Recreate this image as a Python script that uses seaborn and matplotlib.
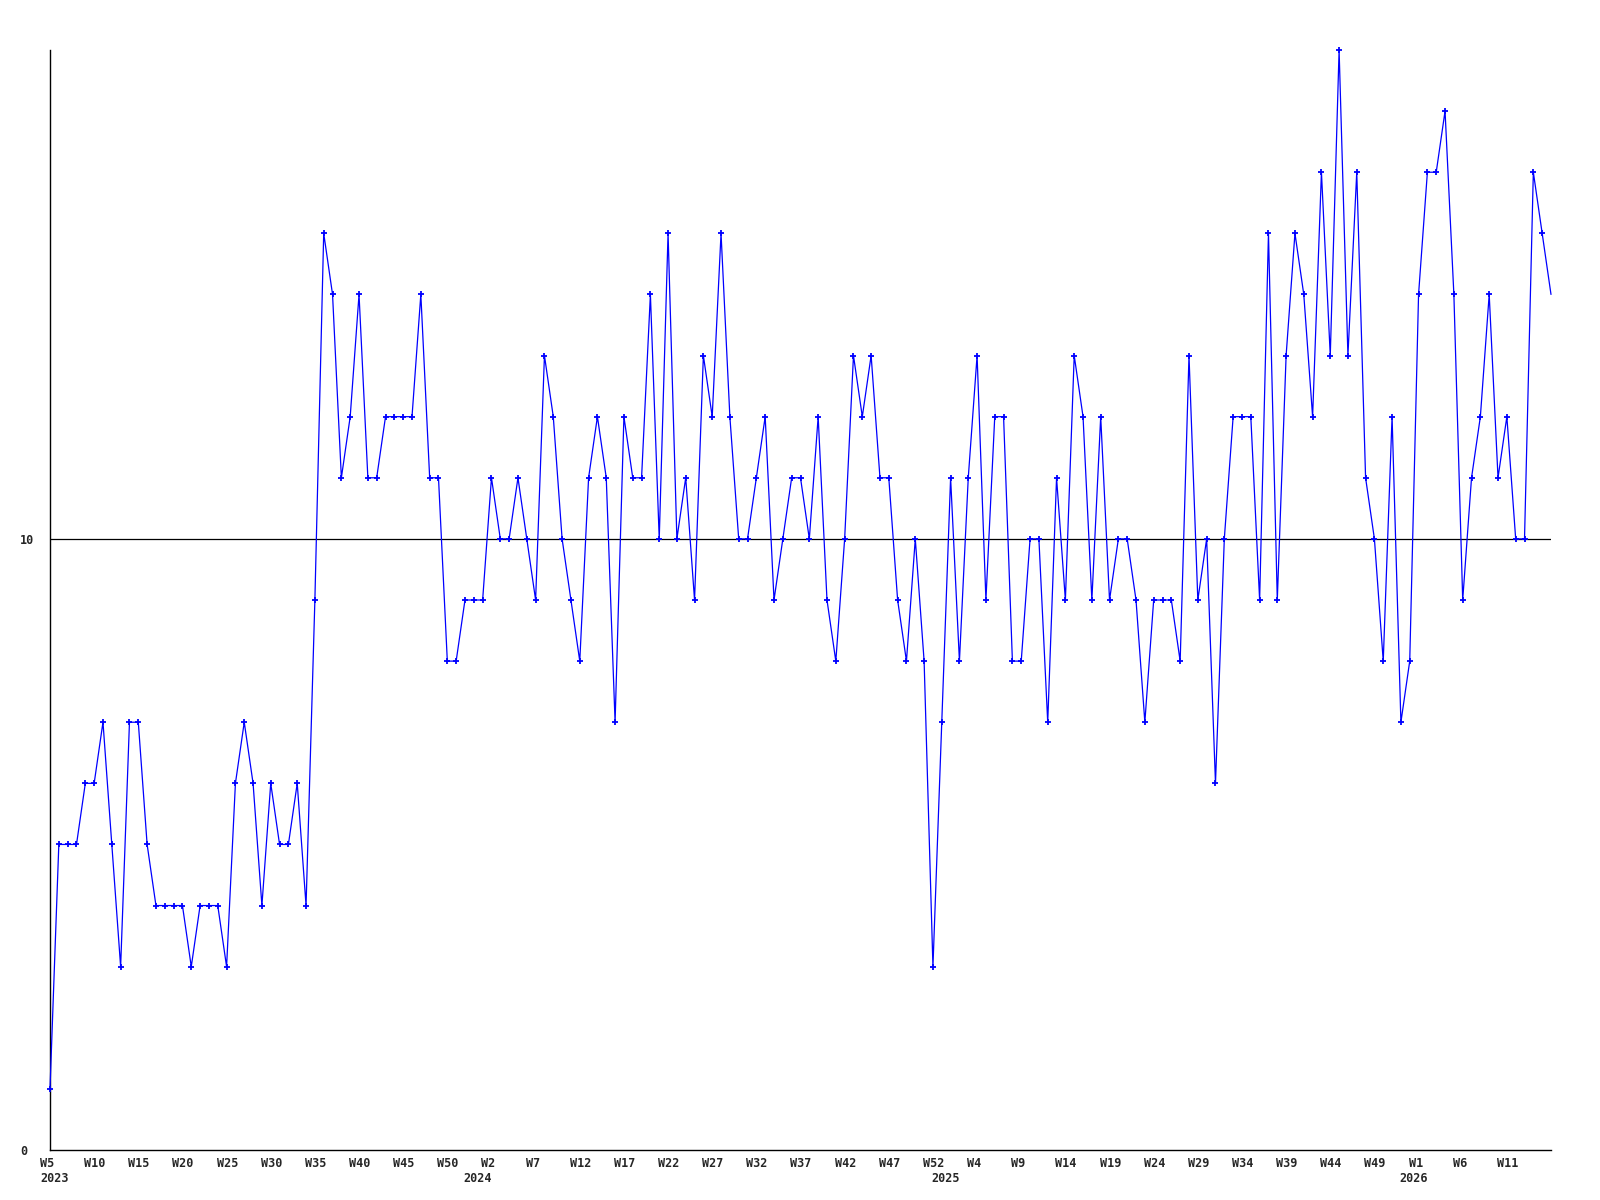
import matplotlib
matplotlib.use('Agg')
import matplotlib.pyplot as plt
import matplotlib.transforms as mtransforms
import numpy as np
import pandas as pd
import seaborn as sns

# weekly values, W5 2023 .. W15 2026
values = [1, 5, 5, 5, 6, 6, 7, 5, 3, 7, 7, 5, 4, 4, 4, 4, 3, 4, 4, 4, 3, 6, 7, 6, 4,
          6, 5, 5, 6, 4, 9, 15, 14, 11, 12, 14, 11, 11, 12, 12, 12, 12, 14, 11, 11, 8, 8, 9, 9, 9,
          11, 10, 10, 11, 10, 9, 13, 12, 10, 9, 8, 11, 12, 11, 7, 12, 11, 11, 14, 10, 15, 10, 11, 9, 13,
          12, 15, 12, 10, 10, 11, 12, 9, 10, 11, 11, 10, 12, 9, 8, 10, 13, 12, 13, 11, 11, 9, 8, 10, 8,
          3, 7, 11, 8, 11, 13, 9, 12, 12, 8, 8, 10, 10, 7, 11, 9, 13, 12, 9, 12, 9, 10, 10, 9, 7,
          9, 9, 9, 8, 13, 9, 10, 6, 10, 12, 12, 12, 9, 15, 9, 13, 15, 14, 12, 16, 13, 18, 13, 16, 11,
          10, 8, 12, 7, 8, 14, 16, 16, 17, 14, 9, 11, 12, 14, 11, 12, 10, 10, 16, 15, 14]

# x tick labels (every 5th week) grouped by year
week_ticks = {
    '2023': ['W5', 'W10', 'W15', 'W20', 'W25', 'W30', 'W35', 'W40', 'W45', 'W50'],
    '2024': ['W2', 'W7', 'W12', 'W17', 'W22', 'W27', 'W32', 'W37', 'W42', 'W47', 'W52'],
    '2025': ['W4', 'W9', 'W14', 'W19', 'W24', 'W29', 'W34', 'W39', 'W44', 'W49'],
    '2026': ['W1', 'W6', 'W11'],
}
ytick_vals = [0, 10]
ref_line = 10

df = pd.DataFrame({'week': np.arange(len(values)), 'value': values})

sns.set_style('white')
plt.rcParams['font.family'] = ['DejaVu Sans Mono']
plt.rcParams['font.weight'] = 'bold'

fig = plt.figure(figsize=(16, 12), dpi=100)
ax = fig.add_axes([50 / 1600, 50 / 1200, 1501 / 1600, 1100 / 1200])

ax.axhline(ref_line, color='black', lw=0.9, zorder=1)
sns.lineplot(data=df, x='week', y='value', ax=ax, color='#0000ff', lw=0.9,
             marker='+', markersize=4, markeredgewidth=1.3, markeredgecolor='#0000ff',
             markevery=slice(0, len(values) - 1), zorder=3, clip_on=False)

ax.set_xlim(0, len(values) - 1)
ax.set_ylim(0, 18)

# week labels: left-aligned, starting ~10px left of their tick
labels = [w for yr in week_ticks for w in week_ticks[yr]]
ticks = np.arange(len(labels)) * 5
ax.set_xticks(ticks)
ax.set_xticklabels([])
trans = mtransforms.blended_transform_factory(ax.transData, ax.transAxes)
for t, lab in zip(ticks, labels):
    ax.annotate(lab, xy=(t, 0), xycoords=trans, xytext=(-7.2, -5.3), textcoords='offset points',
                ha='left', va='top', fontsize=8.5, fontweight='bold')

ax.set_yticks(ytick_vals)
ax.set_yticklabels([str(v) for v in ytick_vals], fontsize=8.5, fontweight='bold', ha='left')
ax.tick_params(axis='x', length=0)
ax.tick_params(axis='y', length=0, pad=21.5)

# year labels under week 0/1 of each year
start = 0
for yr, wks in week_ticks.items():
    first_num = int(wks[0][1:])
    pos = max(0, start - first_num)
    ax.annotate(yr, xy=(pos, 0), xycoords=trans, xytext=(-7.2, -15.6), textcoords='offset points',
                ha='left', va='top', fontsize=8.5, fontweight='bold')
    start += 5 * len(wks)

ax.set_xlabel('')
ax.set_ylabel('')
for s in ['top', 'right']:
    ax.spines[s].set_visible(False)
for s in ['left', 'bottom']:
    ax.spines[s].set_color('black')
    ax.spines[s].set_linewidth(1.0)

fig.savefig('out.png', dpi=100)
